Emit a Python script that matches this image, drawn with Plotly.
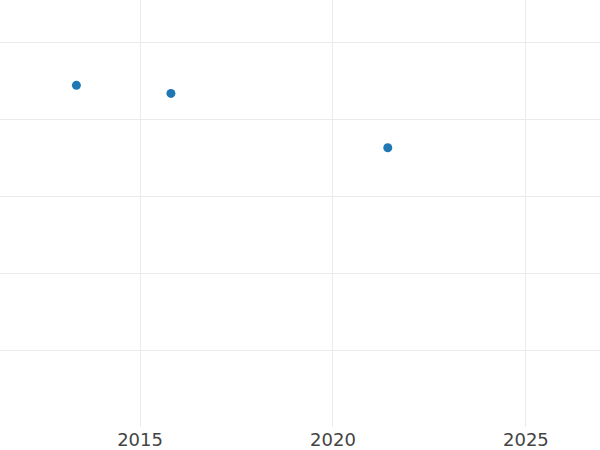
import plotly.graph_objects as go

years = [2013.35, 2015.8, 2021.42]
values = [4.45, 4.345, 3.64]

x_tick_vals = [2015, 2020, 2025]
x_tick_text = ["2015", "2020", "2025"]
y_tick_vals = [1, 2, 3, 4, 5]

fig = go.Figure(
    go.Scatter(
        x=years, y=values, mode="markers",
        marker=dict(color="#1f77b4", size=9),
    )
)
fig.update_layout(
    width=600, height=450,
    margin=dict(l=0, r=0, t=0, b=23),
    paper_bgcolor="white", plot_bgcolor="white",
    font=dict(family="DejaVu Sans", size=18, color="#444"),
    showlegend=False,
)
fig.update_xaxes(
    range=[2011.37, 2026.92], tickvals=x_tick_vals, ticktext=x_tick_text,
    showgrid=True, gridcolor="#ebebeb", gridwidth=1.2, zeroline=False,
    showline=False, ticks="",
)
fig.update_yaxes(
    range=[0.013, 5.558], tickvals=y_tick_vals, showticklabels=False,
    showgrid=True, gridcolor="#ebebeb", gridwidth=1.2, zeroline=False,
    showline=False, ticks="",
)
fig.write_html(
    "out.html",
    config={"displayModeBar": False},
    post_script="document.body.style.margin='0';",
)
